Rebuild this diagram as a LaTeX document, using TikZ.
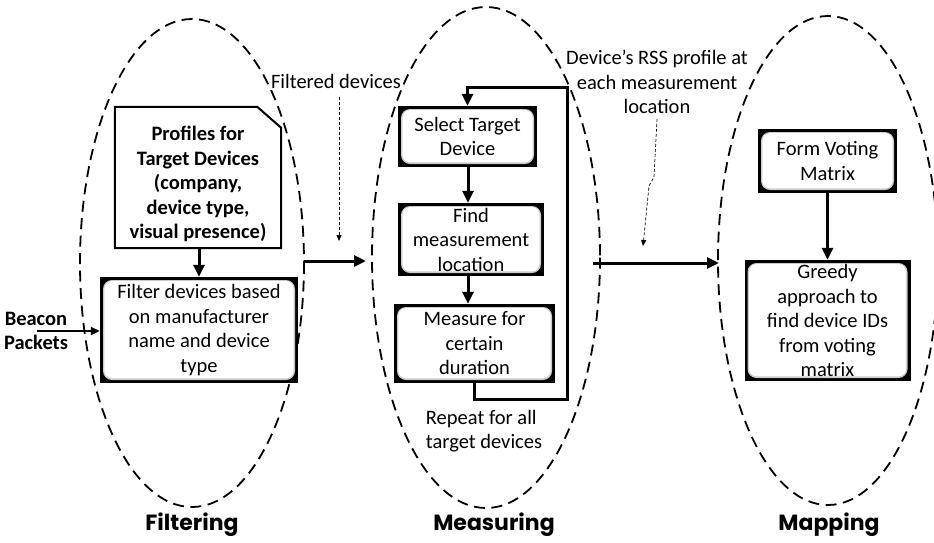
\documentclass[tikz,border=0pt]{standalone}
\usepackage{fontspec}
\setmainfont{Carlito}
\newfontfamily\headfont{Poppins}
\usetikzlibrary{arrows.meta,calc}
\newcommand\bodysize{\fontsize{20.5}{24.5}\selectfont}

\begin{document}
\begin{tikzpicture}[x=1pt,y=-1pt,
  every node/.style={font=\bodysize, align=center, inner sep=0pt},
  stage/.style={line width=1.8pt, dash pattern=on 11pt off 6.5pt},
  heading/.style={font=\headfont\bfseries\fontsize{22}{26}\selectfont},
  procbox/.style={fill=black, path picture={
      \fill[gray!40, rounded corners=9pt]
        ($(path picture bounding box.south west)+(3pt,3pt)$) rectangle
        ($(path picture bounding box.north east)+(-3pt,-3pt)$);
      \fill[white, rounded corners=8pt]
        ($(path picture bounding box.south west)+(4.3pt,4.6pt)$) rectangle
        ($(path picture bounding box.north east)+(-4.3pt,-4pt)$);
  }},
  flow/.style={line width=3pt, -{Triangle[length=12pt,width=11pt]}},
  feed/.style={line width=2pt, -{Triangle[length=9pt,width=8pt]}},
  note/.style={line width=0.7pt, dash pattern=on 3pt off 2pt, -{Triangle[length=6pt,width=5pt]}}
]
\useasboundingbox (0,0) rectangle (934,542);

% three stages
\draw[stage] (192,263) ellipse [x radius=112, y radius=244];
\draw[stage] (486,257.5) ellipse [x radius=114, y radius=250.5];
\draw[stage] (828,260.5) ellipse [x radius=110, y radius=244.5];

\node[heading] (hfilt) at (192,525) {Filtering};
\node[heading] (hmeas) at (494,525) {Measuring};
\node[heading] (hmap)  at (829,525) {Mapping};

% filtering: profile sheet with a cut corner
\node[minimum width=166pt, minimum height=141pt] (prof) at (198,177.5) {};
\draw[line width=2pt, line join=miter] (prof.south west) -- (prof.north west)
  -- ($(prof.north east)+(-24pt,0)$) -- ($(prof.north east)+(0,-21pt)$)
  -- (prof.south east) -- cycle;
\node[font=\bodysize\bfseries] (proftext) at (198,184)
  {Profiles for\\Target Devices\\(company,\\device type,\\visual presence)};
\node[procbox, minimum width=198pt, minimum height=106pt] (filt) at (199,330)
  {Filter devices based\\on manufacturer\\name and device\\type};
\draw[flow] (prof.south -| filt.north) -- (filt.north);

\node[font=\bodysize\bfseries] (beacon) at (36,331) {Beacon\\Packets};
\coordinate (bstart) at (37,331);
\draw[feed] (bstart) -- (bstart -| filt.west);

% measuring
\node[procbox, minimum width=139pt, minimum height=61pt] (sel) at (467.5,136.5)
  {Select Target\\Device};
\node[procbox, minimum width=146pt, minimum height=73pt] (find) at (471,239.5)
  {Find\\measurement\\location};
\node[procbox, minimum width=161pt, minimum height=79pt] (meas) at (474.5,343.5)
  {Measure for\\certain\\duration};
\draw[flow] (sel.south -| 468,0) -- (find.north -| 468,0);
\draw[flow] (find.south -| 468,0) -- (meas.north -| 468,0);

\coordinate (loopbot) at (567,399);
\coordinate (looptop) at (567,87);
\draw[flow] (meas.south) -- (meas.south |- loopbot) -- (loopbot)
  -- (looptop) -- (sel.north |- looptop) -- (sel.north);
\node[align=left] (repeat) at (484,431) {Repeat for all\\target devices};

% mapping
\node[procbox, minimum width=139pt, minimum height=64pt] (form) at (827.5,161)
  {Form Voting\\Matrix};
\node[procbox, minimum width=166pt, minimum height=121pt] (greedy) at (827.5,320.5)
  {Greedy\\approach to\\find device IDs\\from voting\\matrix};
\draw[flow] (form.south) -- (greedy.north);

% hand-over between stages
\coordinate (fm1) at (304,261);
\coordinate (fm2) at (366,261);
\draw[flow] (fm1) -- (fm2);
\coordinate (mm1) at (593,263);
\coordinate (mm2) at (719,263);
\draw[flow] (mm1) -- (mm2);

\node (fdlabel) at (336,81) {Filtered devices};
\coordinate (fd1) at (339,97);
\coordinate (fd2) at (339,241);
\draw[note] (fd1) -- (fd2);

\node (rsslabel) at (657,82) {Device’s RSS profile at\\each measurement\\location};
\coordinate (r1) at (657,119);
\coordinate (r2) at (654,177);
\coordinate (r3) at (649,186);
\coordinate (r4) at (643,246);
\draw[note] (r1) -- (r2) -- (r3) -- (r4);
\end{tikzpicture}
\end{document}
